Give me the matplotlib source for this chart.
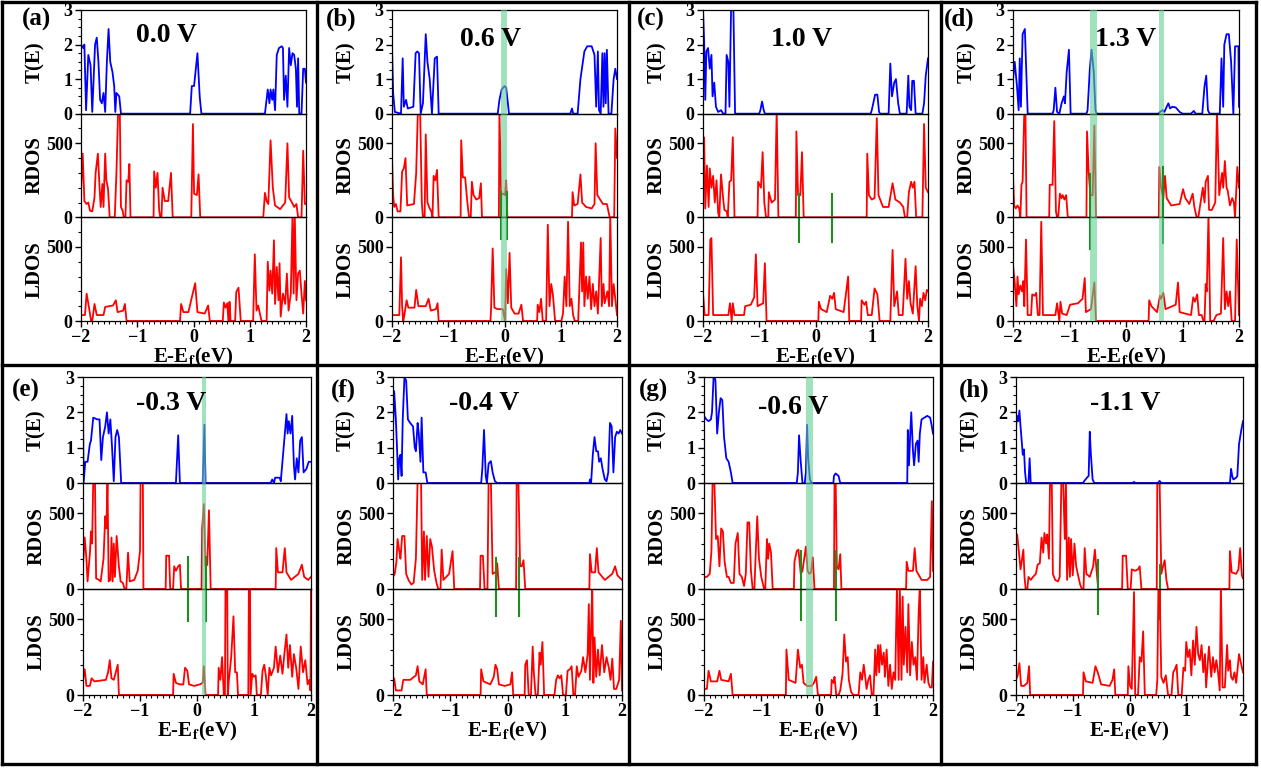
import numpy as np
import matplotlib.pyplot as plt
from matplotlib.ticker import MultipleLocator
from matplotlib.lines import Line2D

plt.rcParams['font.family'] = ['Liberation Serif', 'DejaVu Serif']
plt.rcParams['font.weight'] = 'bold'
plt.rcParams['mathtext.fontset'] = 'stix'

W, H = 1261, 771

# ---- data: (E, value) vertices ----
a_T = [(-2, 2.0), (-1.96, 1.9), (-1.94, 2.0), (-1.91, 0.1), (-1.87, 1.7), (-1.83, 1.4), (-1.80, 0.05), (-1.75, 2.0),
       (-1.72, 2.2), (-1.69, 1.5), (-1.66, 0.4), (-1.63, 0.3), (-1.60, 0.6), (-1.57, 0.05), (-1.54, 1.5), (-1.51, 2.45),
       (-1.48, 1.5), (-1.44, 1.2), (-1.41, 0.8), (-1.39, 0.05), (-1.37, 0.6), (-1.32, 0.5), (-1.29, 0.0), (-0.06, 0.0),
       (-0.03, 0.8), (0.01, 0.8), (0.07, 1.75), (0.11, 0.5), (0.14, 0.0), (1.27, 0.0), (1.32, 0.7), (1.35, 0.3),
       (1.37, 0.7), (1.40, 0.4), (1.42, 0.7), (1.45, 0.1), (1.48, 1.7), (1.52, 1.9), (1.57, 1.95), (1.59, 1.9),
       (1.61, 0.4), (1.64, 1.1), (1.67, 0.2), (1.70, 1.9), (1.73, 1.4), (1.76, 1.75), (1.79, 1.7), (1.82, 1.3),
       (1.84, 0.2), (1.86, 1.6), (1.88, 0.0), (1.92, 0.0), (1.95, 1.3), (1.98, 1.3), (2.0, 0.9)]
a_R = [(-2, 170), (-1.97, 430), (-1.94, 110), (-1.90, 90), (-1.87, 100), (-1.84, 45), (-1.80, 40), (-1.76, 135),
       (-1.74, 300), (-1.70, 430), (-1.67, 200), (-1.65, 70), (-1.62, 225), (-1.60, 70), (-1.57, 430), (-1.55, 250),
       (-1.52, 195), (-1.49, 0), (-1.40, 0), (-1.37, 300), (-1.34, 720), (-1.31, 720), (-1.29, 70), (-1.26, 45),
       (-1.24, 0), (-1.21, 0), (-1.19, 250), (-1.16, 240), (-1.14, 360), (-1.12, 0), (-0.71, 0), (-0.70, 310),
       (-0.67, 200), (-0.64, 300), (-0.61, 45), (-0.59, 0), (-0.57, 0), (-0.55, 200), (-0.51, 110), (-0.45, 110),
       (-0.40, 300), (-0.37, 0), (-0.04, 0), (-0.01, 630), (0.01, 160), (0.06, 150), (0.09, 290), (0.12, 0),
       (1.24, 0), (1.27, 165), (1.30, 110), (1.33, 90), (1.37, 520), (1.41, 200), (1.45, 80), (1.54, 55),
       (1.63, 100), (1.67, 500), (1.70, 135), (1.75, 100), (1.79, 70), (1.83, 90), (1.86, 0), (1.92, 0),
       (1.95, 450), (1.98, 90), (2.0, 90)]
a_L = [(-2, 40), (-1.93, 40), (-1.90, 185), (-1.86, 95), (-1.82, 0), (-1.80, 0), (-1.76, 115), (-1.72, 40),
       (-1.60, 40), (-1.57, 95), (-1.43, 105), (-1.38, 140), (-1.35, 60), (-1.25, 70), (-1.22, 115), (-1.19, 0),
       (-0.24, 0), (-0.22, 115), (-0.18, 60), (-0.09, 60), (-0.03, 160), (0.03, 255), (0.07, 60), (0.20, 50),
       (0.26, 105), (0.29, 0), (0.52, 0), (0.54, 125), (0.57, 90), (0.60, 120), (0.62, 0), (0.63, 0), (0.64, 130),
       (0.66, 0), (0.74, 0), (0.76, 195), (0.80, 225), (0.84, 0), (1.06, 0), (1.09, 450), (1.12, 70), (1.15, 105),
       (1.18, 50), (1.21, 0), (1.30, 0), (1.32, 400), (1.35, 205), (1.37, 340), (1.40, 185), (1.43, 545),
       (1.45, 115), (1.48, 365), (1.51, 140), (1.53, 390), (1.55, 30), (1.59, 185), (1.63, 115), (1.66, 320),
       (1.69, 70), (1.73, 185), (1.76, 720), (1.78, 185), (1.80, 720), (1.83, 140), (1.86, 320), (1.89, 340),
       (1.92, 185), (1.95, 50), (1.98, 270), (2.0, 140)]

b_T = [(-2, 1.95), (-1.98, 0.6), (-1.95, 0.05), (-1.84, 0.0), (-1.81, 1.6), (-1.79, 0.2), (-1.75, 0.4),
       (-1.72, 0.15), (-1.62, 0.2), (-1.58, 1.75), (-1.55, 1.8), (-1.52, 1.75), (-1.49, 0.0), (-1.45, 0.3),
       (-1.40, 2.3), (-1.37, 1.5), (-1.33, 1.0), (-1.29, 0.0), (-1.24, 1.6), (-1.20, 1.65), (-1.17, 0.0),
       (-0.12, 0.0), (-0.09, 0.4), (-0.05, 0.7), (0.0, 0.8), (0.03, 0.75), (0.06, 0.3), (0.08, 0.0),
       (1.17, 0.0), (1.20, 0.15), (1.22, 0.0), (1.30, 0.0), (1.35, 1.0), (1.42, 1.8), (1.47, 1.95), (1.55, 1.95),
       (1.60, 1.7), (1.63, 0.2), (1.66, 1.8), (1.68, 0.1), (1.71, 0.0), (1.74, 1.75), (1.76, 0.2), (1.78, 1.75),
       (1.80, 0.3), (1.82, 1.85), (1.85, 0.0), (1.90, 0.0), (1.94, 1.0), (1.97, 1.3), (2.0, 1.0)]
b_R = [(-2, 400), (-1.98, 150), (-1.96, 70), (-1.93, 90), (-1.90, 40), (-1.85, 40), (-1.82, 310), (-1.79, 330),
       (-1.76, 400), (-1.73, 80), (-1.61, 90), (-1.57, 300), (-1.54, 720), (-1.50, 720), (-1.47, 100), (-1.45, 0),
       (-1.42, 0), (-1.40, 560), (-1.37, 100), (-1.33, 60), (-1.30, 40), (-1.28, 0), (-1.26, 280), (-1.23, 250),
       (-1.20, 320), (-1.17, 0), (-0.78, 0), (-0.77, 520), (-0.74, 270), (-0.70, 270), (-0.66, 100), (-0.63, 0),
       (-0.60, 0), (-0.58, 240), (-0.55, 150), (-0.50, 120), (-0.45, 130), (-0.42, 230), (-0.40, 0), (-0.10, 0),
       (-0.09, 720), (-0.06, 150), (-0.02, 160), (0.01, 150), (0.03, 250), (0.05, 0), (1.20, 0), (1.21, 170),
       (1.24, 80), (1.30, 90), (1.35, 290), (1.38, 100), (1.45, 70), (1.55, 60), (1.60, 90), (1.62, 500),
       (1.65, 150), (1.75, 90), (1.82, 90), (1.87, 0), (1.95, 0), (1.97, 600), (2.0, 400)]
b_L = [(-2, 40), (-1.87, 40), (-1.84, 430), (-1.82, 100), (-1.80, 0), (-1.78, 40), (-1.74, 140), (-1.71, 90),
       (-1.60, 90), (-1.57, 210), (-1.53, 100), (-1.40, 100), (-1.35, 150), (-1.31, 70), (-1.22, 80), (-1.19, 120),
       (-1.17, 0), (-0.25, 0), (-0.24, 70), (-0.21, 490), (-0.18, 90), (-0.12, 80), (-0.03, 80), (0.01, 0),
       (0.03, 350), (0.06, 120), (0.09, 460), (0.12, 90), (0.18, 50), (0.25, 50), (0.30, 110), (0.33, 0),
       (0.58, 0), (0.59, 110), (0.62, 60), (0.65, 150), (0.68, 0), (0.74, 0), (0.77, 650), (0.80, 100),
       (0.83, 250), (0.86, 180), (0.90, 0), (1.01, 0), (1.04, 50), (1.07, 300), (1.10, 100), (1.13, 670),
       (1.16, 100), (1.19, 150), (1.22, 40), (1.25, 0), (1.31, 0), (1.36, 530), (1.38, 200), (1.40, 530),
       (1.42, 100), (1.45, 300), (1.48, 150), (1.51, 300), (1.54, 80), (1.57, 250), (1.60, 100), (1.63, 200),
       (1.66, 50), (1.71, 560), (1.73, 100), (1.76, 250), (1.78, 120), (1.83, 200), (1.86, 100), (1.88, 720),
       (1.91, 100), (1.94, 250), (1.97, 150), (2.0, 40)]

c_T = [(-2, 3.0), (-1.98, 2.1), (-1.96, 0.4), (-1.94, 1.8), (-1.91, 1.9), (-1.88, 1.3), (-1.85, 1.7),
       (-1.83, 0.5), (-1.80, 0.9), (-1.77, 0.2), (-1.73, 0.05), (-1.68, 0.1), (-1.64, 0.0), (-1.60, 0.0),
       (-1.58, 1.7), (-1.55, 1.5), (-1.53, 0.2), (-1.50, 3.1), (-1.46, 3.1), (-1.43, 0.0), (-1.00, 0.0),
       (-0.98, 0.1), (-0.95, 0.35), (-0.92, 0.1), (-0.90, 0.0), (0.98, 0.0), (1.00, 0.1), (1.06, 0.55),
       (1.10, 0.55), (1.13, 0.05), (1.15, 0.0), (1.30, 0.0), (1.33, 1.45), (1.36, 0.5), (1.40, 0.9), (1.43, 1.0),
       (1.47, 0.3), (1.50, 0.0), (1.62, 0.0), (1.65, 1.1), (1.67, 0.2), (1.70, 0.1), (1.72, 0.95), (1.75, 0.95),
       (1.78, 0.0), (1.90, 0.0), (1.93, 0.3), (1.96, 1.1), (2.0, 1.6)]
c_R = [(-2, 300), (-1.98, 540), (-1.96, 60), (-1.93, 350), (-1.90, 70), (-1.88, 330), (-1.85, 200),
       (-1.82, 280), (-1.79, 100), (-1.76, 250), (-1.73, 30), (-1.71, 0), (-1.68, 290), (-1.64, 120),
       (-1.62, 50), (-1.58, 40), (-1.56, 0), (-1.53, 240), (-1.50, 250), (-1.47, 540), (-1.44, 0), (-1.03, 0),
       (-1.02, 240), (-0.97, 200), (-0.94, 440), (-0.91, 100), (-0.88, 0), (-0.84, 0), (-0.83, 170), (-0.78, 100),
       (-0.72, 120), (-0.69, 720), (-0.66, 0), (-0.35, 0), (-0.34, 580), (-0.31, 150), (-0.27, 150),
       (-0.24, 440), (-0.21, 0), (0.91, 0), (0.92, 430), (0.95, 150), (1.00, 120), (1.05, 130), (1.09, 670),
       (1.12, 150), (1.20, 70), (1.30, 70), (1.37, 230), (1.42, 120), (1.50, 100), (1.56, 70), (1.59, 0),
       (1.63, 0), (1.66, 170), (1.70, 240), (1.73, 200), (1.76, 240), (1.79, 0), (1.90, 0), (1.93, 630),
       (1.96, 200), (2.0, 170)]
c_L = [(-2, 190), (-1.97, 40), (-1.90, 40), (-1.87, 550), (-1.85, 560), (-1.82, 40), (-1.55, 40), (-1.52, 120),
       (-1.49, 0), (-1.47, 120), (-1.44, 40), (-1.27, 40), (-1.25, 100), (-1.15, 110), (-1.09, 160),
       (-1.06, 450), (-1.03, 100), (-0.93, 120), (-0.90, 390), (-0.87, 0), (0.05, 0), (0.06, 130), (0.10, 80),
       (0.20, 60), (0.26, 170), (0.30, 150), (0.33, 190), (0.36, 80), (0.50, 60), (0.58, 300), (0.60, 0),
       (0.81, 0), (0.82, 140), (0.87, 110), (0.90, 130), (0.93, 40), (1.00, 40), (1.05, 220), (1.10, 180),
       (1.14, 0), (1.33, 0), (1.37, 480), (1.40, 100), (1.45, 200), (1.48, 40), (1.55, 40), (1.60, 420),
       (1.63, 150), (1.66, 270), (1.69, 120), (1.73, 50), (1.78, 370), (1.81, 100), (1.84, 0), (1.86, 150),
       (1.89, 100), (1.92, 190), (1.95, 140), (1.98, 210), (2.0, 200)]

d_T = [(-2, 1.0), (-1.97, 1.5), (-1.93, 0.8), (-1.90, 0.1), (-1.88, 1.6), (-1.86, 0.2), (-1.83, 2.3),
       (-1.79, 2.45), (-1.74, 0.0), (-1.30, 0.0), (-1.28, 0.1), (-1.25, 0.75), (-1.22, 0.05), (-1.18, 0.0),
       (-1.14, 0.3), (-1.10, 0.5), (-1.08, 0.3), (-1.05, 1.2), (-1.01, 1.85), (-0.98, 0.0), (-0.70, 0.0),
       (-0.68, 0.1), (-0.64, 1.3), (-0.61, 1.85), (-0.57, 1.2), (-0.54, 0.1), (-0.52, 0.0), (0.58, 0.0),
       (0.60, 0.05), (0.65, 0.1), (0.68, 0.05), (0.72, 0.2), (0.75, 0.3), (0.78, 0.15), (0.82, 0.2),
       (0.88, 0.18), (0.95, 0.05), (1.00, 0.0), (1.15, 0.0), (1.20, 0.08), (1.23, 0.0), (1.35, 0.0),
       (1.39, 0.8), (1.42, 1.1), (1.45, 0.1), (1.48, 0.0), (1.66, 0.0), (1.69, 1.6), (1.72, 0.2), (1.74, 2.0),
       (1.78, 2.3), (1.82, 2.3), (1.86, 1.5), (1.90, 0.0), (1.93, 1.95), (1.99, 1.95), (2.0, 0.2)]
d_R = [(-2, 280), (-1.98, 80), (-1.95, 60), (-1.92, 80), (-1.89, 60), (-1.87, 0), (-1.85, 220), (-1.83, 240),
       (-1.80, 720), (-1.78, 720), (-1.76, 0), (-1.36, 0), (-1.35, 220), (-1.30, 220), (-1.27, 650),
       (-1.24, 40), (-1.22, 0), (-1.20, 0), (-1.17, 160), (-1.14, 130), (-1.12, 150), (-1.09, 120),
       (-1.06, 150), (-1.03, 0), (-0.70, 0), (-0.69, 580), (-0.66, 300), (-0.63, 150), (-0.59, 150),
       (-0.56, 620), (-0.53, 0), (0.58, 0), (0.59, 340), (0.62, 200), (0.66, 130), (0.69, 280), (0.72, 130),
       (0.80, 80), (0.95, 90), (1.01, 190), (1.05, 130), (1.12, 90), (1.18, 160), (1.21, 70), (1.25, 0),
       (1.28, 0), (1.32, 100), (1.36, 200), (1.39, 100), (1.41, 240), (1.45, 280), (1.47, 50), (1.52, 50),
       (1.58, 100), (1.61, 720), (1.65, 150), (1.70, 300), (1.72, 200), (1.75, 380), (1.78, 200), (1.80, 180),
       (1.84, 80), (1.88, 130), (1.91, 100), (1.93, 0), (1.97, 340), (2.0, 200)]
d_L = [(-2, 380), (-1.97, 260), (-1.94, 100), (-1.92, 300), (-1.90, 180), (-1.87, 240), (-1.84, 200),
       (-1.82, 270), (-1.80, 100), (-1.77, 550), (-1.74, 40), (-1.68, 40), (-1.66, 180), (-1.62, 170),
       (-1.59, 190), (-1.56, 40), (-1.53, 40), (-1.50, 670), (-1.47, 40), (-1.25, 40), (-1.22, 120),
       (-1.18, 0), (-1.16, 130), (-1.13, 50), (-1.05, 40), (-0.99, 110), (-0.85, 120), (-0.77, 150),
       (-0.73, 290), (-0.71, 60), (-0.62, 80), (-0.56, 260), (-0.53, 0), (0.40, 0), (0.41, 140), (0.45, 100),
       (0.55, 60), (0.60, 170), (0.62, 150), (0.66, 190), (0.70, 80), (0.88, 110), (0.92, 260), (0.95, 60),
       (1.15, 40), (1.19, 160), (1.22, 130), (1.26, 180), (1.29, 40), (1.34, 40), (1.37, 0), (1.39, 0),
       (1.41, 250), (1.43, 200), (1.46, 720), (1.49, 0), (1.55, 0), (1.60, 40), (1.68, 50), (1.72, 560),
       (1.75, 80), (1.78, 200), (1.81, 100), (1.84, 200), (1.87, 0), (1.93, 0), (1.96, 550), (2.0, 40)]

e_T = [(-2, 2.2), (-1.99, 0.0), (-1.96, 0.6), (-1.92, 0.6), (-1.88, 1.1), (-1.86, 1.2), (-1.82, 1.85),
       (-1.75, 1.8), (-1.71, 1.8), (-1.68, 0.65), (-1.65, 1.3), (-1.61, 1.6), (-1.58, 2.0), (-1.55, 1.4),
       (-1.52, 1.8), (-1.49, 1.0), (-1.46, 0.05), (-1.43, 1.3), (-1.40, 1.5), (-1.37, 1.3), (-1.33, 0.0),
       (-0.37, 0.0), (-0.33, 1.35), (-0.30, 0.0), (0.10, 0.0), (0.13, 1.65), (0.15, 0.0), (1.29, 0.0),
       (1.32, 0.1), (1.35, 0.0), (1.37, 0.15), (1.45, 0.15), (1.47, 0.05), (1.52, 1.0), (1.57, 1.95),
       (1.59, 1.4), (1.61, 1.75), (1.64, 1.4), (1.67, 1.9), (1.70, 0.5), (1.72, 0.1), (1.75, 0.7), (1.78, 0.3),
       (1.81, 1.2), (1.84, 1.3), (1.87, 0.3), (1.92, 0.4), (1.96, 0.6), (2.0, 0.6)]
e_R = [(-2, 160), (-1.97, 340), (-1.94, 200), (-1.92, 50), (-1.88, 230), (-1.86, 380), (-1.84, 300),
       (-1.82, 720), (-1.79, 720), (-1.77, 70), (-1.72, 60), (-1.69, 50), (-1.64, 200), (-1.61, 480),
       (-1.59, 400), (-1.57, 720), (-1.55, 50), (-1.52, 60), (-1.50, 340), (-1.48, 50), (-1.46, 300),
       (-1.44, 80), (-1.41, 350), (-1.37, 150), (-1.34, 50), (-1.30, 40), (-1.27, 0), (-1.24, 0), (-1.21, 240),
       (-1.18, 50), (-1.10, 60), (-1.04, 120), (-1.00, 250), (-0.99, 720), (-0.95, 720), (-0.94, 0),
       (-0.55, 0), (-0.54, 220), (-0.49, 220), (-0.47, 0), (-0.42, 0), (-0.40, 150), (-0.37, 120),
       (-0.33, 150), (-0.30, 160), (-0.28, 0), (0.08, 0), (0.09, 400), (0.12, 560), (0.15, 150), (0.18, 160),
       (0.21, 520), (0.24, 0), (1.38, 0), (1.39, 270), (1.42, 110), (1.50, 110), (1.54, 270), (1.57, 110),
       (1.65, 60), (1.78, 100), (1.84, 160), (1.88, 80), (1.95, 60), (2.0, 80)]
e_L = [(-2, 100), (-1.97, 170), (-1.94, 60), (-1.88, 60), (-1.85, 110), (-1.80, 90), (-1.60, 100),
       (-1.56, 150), (-1.53, 230), (-1.50, 110), (-1.46, 100), (-1.39, 200), (-1.37, 0), (-0.42, 0),
       (-0.41, 140), (-0.37, 80), (-0.30, 70), (-0.24, 70), (-0.21, 180), (-0.17, 160), (-0.14, 70),
       (-0.05, 60), (0.05, 70), (0.10, 80), (0.12, 190), (0.15, 0), (0.37, 0), (0.38, 180), (0.41, 100),
       (0.44, 250), (0.47, 0), (0.49, 0), (0.50, 720), (0.53, 720), (0.54, 0), (0.56, 100), (0.60, 250),
       (0.64, 520), (0.67, 150), (0.70, 150), (0.72, 0), (0.90, 0), (0.91, 720), (0.93, 720), (0.94, 0),
       (0.97, 140), (1.00, 120), (1.03, 130), (1.05, 0), (1.12, 0), (1.15, 160), (1.18, 200), (1.21, 120),
       (1.24, 0), (1.27, 180), (1.30, 130), (1.35, 180), (1.38, 320), (1.42, 150), (1.46, 260), (1.50, 140),
       (1.53, 260), (1.57, 400), (1.60, 180), (1.63, 330), (1.67, 120), (1.70, 270), (1.74, 180), (1.78, 40),
       (1.82, 320), (1.86, 150), (1.90, 230), (1.94, 70), (1.97, 100), (1.99, 30), (2.0, 720)]

f_T = [(-2, 1.5), (-1.98, 2.6), (-1.95, 1.8), (-1.93, 1.0), (-1.91, 0.1), (-1.89, 0.7), (-1.87, 0.8),
       (-1.85, 0.2), (-1.83, 1.8), (-1.80, 3.0), (-1.77, 2.9), (-1.74, 1.8), (-1.70, 1.7), (-1.65, 1.6),
       (-1.62, 1.0), (-1.60, 0.9), (-1.57, 1.7), (-1.55, 1.4), (-1.52, 0.6), (-1.50, 1.85), (-1.47, 0.3),
       (-1.43, 0.3), (-1.40, 0.0), (-0.46, 0.0), (-0.44, 0.4), (-0.41, 1.5), (-0.38, 0.2), (-0.36, 0.0),
       (-0.33, 0.55), (-0.29, 0.62), (-0.26, 0.3), (-0.22, 0.05), (-0.18, 0.0), (1.43, 0.0), (1.44, 0.1),
       (1.46, 0.0), (1.49, 0.8), (1.52, 1.3), (1.55, 0.9), (1.58, 0.9), (1.60, 0.6), (1.63, 0.7), (1.66, 0.4),
       (1.70, 0.1), (1.73, 0.05), (1.76, 0.3), (1.79, 1.7), (1.82, 1.6), (1.85, 0.3), (1.88, 1.3), (1.91, 1.45),
       (1.94, 1.4), (1.97, 1.5), (2.0, 1.4)]
f_R = [(-2, 80), (-1.97, 100), (-1.94, 180), (-1.92, 330), (-1.89, 250), (-1.87, 200), (-1.84, 350),
       (-1.80, 350), (-1.77, 100), (-1.73, 60), (-1.68, 30), (-1.64, 40), (-1.60, 200), (-1.57, 720),
       (-1.51, 720), (-1.49, 60), (-1.46, 380), (-1.44, 60), (-1.41, 350), (-1.38, 80), (-1.35, 330),
       (-1.32, 280), (-1.28, 120), (-1.24, 40), (-1.21, 0), (-1.17, 0), (-1.15, 260), (-1.12, 60),
       (-1.02, 100), (-0.96, 250), (-0.93, 0), (-0.48, 0), (-0.47, 220), (-0.43, 220), (-0.40, 0),
       (-0.35, 0), (-0.33, 720), (-0.29, 720), (-0.26, 100), (-0.21, 110), (-0.18, 170), (-0.15, 0),
       (0.15, 0), (0.16, 720), (0.19, 720), (0.22, 150), (0.25, 150), (0.28, 190), (0.31, 0), (1.43, 0),
       (1.44, 230), (1.47, 110), (1.53, 110), (1.56, 270), (1.59, 110), (1.70, 60), (1.83, 100), (1.88, 150),
       (1.92, 90), (2.0, 60)]
f_L = [(-2, 60), (-1.98, 110), (-1.95, 30), (-1.85, 30), (-1.82, 100), (-1.70, 100), (-1.60, 130),
       (-1.57, 190), (-1.54, 90), (-1.48, 70), (-1.43, 170), (-1.41, 0), (-0.47, 0), (-0.46, 170),
       (-0.42, 90), (-0.30, 70), (-0.24, 120), (-0.21, 200), (-0.18, 170), (-0.15, 70), (-0.05, 60),
       (0.05, 70), (0.08, 150), (0.10, 0), (0.30, 0), (0.31, 200), (0.34, 230), (0.37, 0), (0.41, 0),
       (0.44, 320), (0.46, 150), (0.49, 0), (0.53, 0), (0.56, 280), (0.58, 200), (0.61, 350), (0.64, 0),
       (0.82, 0), (0.85, 100), (0.88, 130), (0.91, 110), (0.94, 130), (0.97, 0), (1.02, 0), (1.05, 160),
       (1.09, 170), (1.12, 190), (1.15, 0), (1.18, 0), (1.21, 190), (1.24, 120), (1.29, 160), (1.32, 250),
       (1.36, 150), (1.40, 270), (1.42, 600), (1.44, 100), (1.46, 440), (1.48, 720), (1.50, 80), (1.52, 380),
       (1.55, 120), (1.58, 300), (1.61, 130), (1.65, 330), (1.69, 150), (1.73, 250), (1.77, 180), (1.80, 100),
       (1.83, 240), (1.86, 40), (1.90, 40), (1.95, 100), (1.98, 490), (2.0, 30)]

g_T = [(-2, 1.9), (-1.96, 1.8), (-1.92, 1.75), (-1.88, 1.8), (-1.86, 2.0), (-1.83, 3.1), (-1.80, 2.9),
       (-1.77, 1.4), (-1.74, 2.0), (-1.71, 2.4), (-1.68, 2.35), (-1.65, 1.3), (-1.61, 0.7), (-1.57, 0.6),
       (-1.53, 0.3), (-1.50, 0.0), (-0.38, 0.0), (-0.36, 0.3), (-0.34, 1.35), (-0.31, 0.6), (-0.28, 0.0),
       (-0.24, 0.0), (-0.22, 0.3), (-0.20, 1.65), (-0.18, 0.7), (-0.15, 0.1), (-0.12, 0.0), (0.26, 0.0),
       (0.27, 0.2), (0.30, 0.27), (0.35, 0.2), (0.38, 0.0), (1.55, 0.0), (1.56, 1.5), (1.58, 0.5),
       (1.60, 1.3), (1.62, 2.0), (1.65, 0.9), (1.67, 0.5), (1.70, 1.1), (1.73, 1.2), (1.75, 0.6), (1.77, 1.4),
       (1.80, 1.8), (1.85, 1.85), (1.90, 1.9), (1.95, 1.85), (1.98, 1.6), (2.0, 1.4)]
g_R = [(-2, 80), (-1.95, 80), (-1.90, 100), (-1.87, 250), (-1.85, 720), (-1.82, 720), (-1.79, 330),
       (-1.76, 350), (-1.73, 150), (-1.70, 400), (-1.67, 380), (-1.64, 180), (-1.60, 80), (-1.57, 80),
       (-1.53, 40), (-1.48, 40), (-1.45, 300), (-1.41, 370), (-1.38, 100), (-1.34, 80), (-1.30, 20),
       (-1.27, 100), (-1.24, 440), (-1.21, 440), (-1.18, 120), (-1.15, 0), (-1.12, 0), (-1.10, 200),
       (-1.07, 480), (-1.04, 200), (-1.00, 80), (-0.95, 0), (-0.93, 0), (-0.90, 330), (-0.88, 200),
       (-0.86, 300), (-0.83, 240), (-0.80, 0), (-0.43, 0), (-0.42, 180), (-0.38, 250), (-0.35, 260),
       (-0.31, 100), (-0.28, 120), (-0.25, 200), (-0.22, 280), (-0.19, 120), (-0.16, 100), (-0.13, 110),
       (-0.10, 210), (-0.07, 0), (0.27, 0), (0.28, 720), (0.30, 720), (0.32, 150), (0.35, 130), (0.38, 230),
       (0.40, 0), (1.53, 0), (1.54, 180), (1.57, 120), (1.65, 120), (1.68, 270), (1.71, 120), (1.80, 60),
       (1.90, 60), (1.95, 80), (1.98, 580), (2.0, 120)]
g_L = [(-2, 40), (-1.95, 40), (-1.92, 160), (-1.88, 90), (-1.77, 90), (-1.73, 160), (-1.70, 100),
       (-1.57, 90), (-1.53, 140), (-1.50, 0), (-0.57, 0), (-0.56, 300), (-0.52, 100), (-0.40, 80),
       (-0.36, 300), (-0.32, 180), (-0.29, 200), (-0.26, 80), (-0.20, 60), (-0.12, 60), (-0.08, 80),
       (-0.04, 120), (-0.01, 0), (0.22, 0), (0.23, 100), (0.26, 80), (0.28, 120), (0.31, 0), (0.35, 0),
       (0.38, 30), (0.42, 140), (0.45, 400), (0.48, 220), (0.51, 250), (0.53, 100), (0.57, 20), (0.61, 0),
       (0.70, 0), (0.73, 150), (0.76, 100), (0.79, 200), (0.81, 140), (0.84, 40), (0.87, 100), (0.90, 130),
       (0.93, 0), (0.96, 0), (0.99, 300), (1.01, 130), (1.04, 330), (1.06, 150), (1.08, 330), (1.11, 200),
       (1.14, 280), (1.16, 120), (1.19, 300), (1.22, 60), (1.25, 200), (1.28, 40), (1.31, 150), (1.34, 100),
       (1.37, 720), (1.40, 100), (1.42, 720), (1.45, 100), (1.47, 650), (1.49, 200), (1.52, 450),
       (1.55, 150), (1.57, 600), (1.60, 130), (1.63, 350), (1.66, 200), (1.69, 250), (1.72, 100), (1.75, 550),
       (1.77, 720), (1.80, 100), (1.83, 250), (1.85, 80), (1.89, 200), (1.92, 80), (1.95, 50), (1.98, 50),
       (2.0, 220)]

h_T = [(-2, 1.6), (-1.98, 1.9), (-1.96, 1.75), (-1.94, 2.05), (-1.92, 1.6), (-1.90, 1.2), (-1.88, 0.8),
       (-1.86, 0.95), (-1.84, 0.3), (-1.82, 0.0), (-1.78, 0.0), (-1.76, 0.7), (-1.74, 0.0), (-0.82, 0.0),
       (-0.80, 0.05), (-0.75, 0.15), (-0.72, 0.2), (-0.70, 1.45), (-0.68, 0.8), (-0.65, 0.1), (-0.62, 0.0),
       (0.05, 0.0), (0.08, 0.03), (0.10, 0.0), (0.50, 0.0), (0.53, 0.06), (0.56, 0.0), (1.77, 0.0),
       (1.79, 0.4), (1.81, 0.2), (1.83, 0.1), (1.88, 0.15), (1.90, 0.2), (1.93, 1.1), (1.97, 1.5), (2.0, 1.75)]
h_R = [(-2, 300), (-1.98, 360), (-1.95, 250), (-1.92, 130), (-1.90, 180), (-1.87, 260), (-1.85, 80),
       (-1.83, 0), (-1.80, 0), (-1.78, 80), (-1.74, 60), (-1.70, 80), (-1.65, 100), (-1.62, 160),
       (-1.58, 170), (-1.55, 340), (-1.52, 240), (-1.50, 370), (-1.47, 300), (-1.45, 360), (-1.42, 200),
       (-1.40, 720), (-1.37, 720), (-1.35, 100), (-1.31, 60), (-1.26, 50), (-1.23, 80), (-1.20, 720),
       (-1.17, 720), (-1.14, 330), (-1.12, 720), (-1.10, 60), (-1.07, 340), (-1.05, 80), (-1.03, 330),
       (-1.00, 90), (-0.97, 300), (-0.94, 150), (-0.90, 80), (-0.87, 30), (-0.84, 0), (-0.81, 0),
       (-0.79, 270), (-0.76, 100), (-0.70, 80), (-0.64, 150), (-0.61, 260), (-0.58, 120), (-0.55, 0),
       (-0.13, 0), (-0.12, 220), (-0.06, 220), (-0.03, 0), (0.02, 0), (0.04, 130), (0.10, 120), (0.15, 130),
       (0.18, 150), (0.21, 0), (0.48, 0), (0.49, 720), (0.53, 720), (0.56, 100), (0.59, 150), (0.62, 190),
       (0.65, 60), (0.68, 0), (1.76, 0), (1.77, 250), (1.80, 110), (1.88, 100), (1.92, 130), (1.95, 270),
       (1.98, 90), (2.0, 70)]
h_L = [(-2, 100), (-1.97, 130), (-1.94, 210), (-1.91, 60), (-1.86, 60), (-1.80, 80), (-1.77, 190),
       (-1.75, 0), (-0.82, 0), (-0.81, 150), (-0.77, 90), (-0.65, 80), (-0.60, 190), (-0.56, 150),
       (-0.50, 70), (-0.35, 60), (-0.30, 100), (-0.27, 170), (-0.25, 0), (-0.03, 0), (-0.02, 190),
       (0.01, 60), (0.04, 40), (0.08, 680), (0.10, 0), (0.15, 0), (0.18, 250), (0.21, 220), (0.24, 420),
       (0.27, 0), (0.47, 0), (0.49, 100), (0.51, 720), (0.53, 720), (0.56, 120), (0.60, 80), (0.64, 130),
       (0.68, 0), (0.74, 0), (0.77, 150), (0.80, 170), (0.83, 200), (0.86, 0), (0.92, 0), (0.95, 180),
       (0.98, 160), (1.00, 350), (1.03, 250), (1.06, 300), (1.09, 130), (1.12, 360), (1.15, 200), (1.18, 450),
       (1.21, 270), (1.24, 230), (1.27, 330), (1.30, 150), (1.33, 270), (1.35, 50), (1.40, 320), (1.44, 120),
       (1.47, 250), (1.50, 150), (1.53, 230), (1.56, 150), (1.59, 30), (1.61, 720), (1.64, 50), (1.68, 50),
       (1.72, 330), (1.74, 160), (1.77, 230), (1.79, 120), (1.82, 100), (1.85, 150), (1.88, 80), (1.93, 270),
       (1.97, 200), (2.0, 150)]

labels = ['(a)', '(b)', '(c)', '(d)', '(e)', '(f)', '(g)', '(h)']
voltages = ['0.0 V', '0.6 V', '1.0 V', '1.3 V', '-0.3 V', '-0.4 V', '-0.6 V', '-1.1 V']
T_data = [a_T, b_T, c_T, d_T, e_T, f_T, g_T, h_T]
R_data = [a_R, b_R, c_R, d_R, e_R, f_R, g_R, h_R]
L_data = [a_L, b_L, c_L, d_L, e_L, f_L, g_L, h_L]
# highlighted energy windows (green bands)
bands = [[], [(-0.07, 0.05)], [], [(-0.64, -0.52), (0.58, 0.665)],
         [(0.09, 0.16)], [], [(-0.22, -0.10)], []]
# green markers: (E, top in RDOS units, bottom in RDOS units)
markers = [[], [(-0.06, 170, -145), (0.05, 170, -145)], [(-0.30, 160, -165), (0.30, 160, -165)],
           [(-0.64, 295, -215), (0.655, 340, -175)], [(-0.15, 212, -214), (0.15, 212, -214)],
           [(-0.20, 205, -175), (0.20, 205, -175)], [(-0.30, 250, -207), (0.30, 250, -207)],
           [(-0.56, 192, -164), (0.53, 160, -200)]]

# layout in pixels
ax_x = [(81, 306), (392, 617), (703, 928), (1013, 1239), (83, 311), (393, 622), (704, 933), (1016, 1243)]
ax_y = [(10, 321)] * 4 + [(377, 695)] * 4
label_xy = [(22, 19), (326, 19), (637, 19), (944, 19), (12, 390), (331, 390), (639, 390), (959, 390)]
volt_xy = [(167, 35), (491, 40), (802, 40), (1126, 40), (171, 403), (484, 403), (793, 407), (1125, 404)]

fig = plt.figure(figsize=(W / 100, H / 100), dpi=100)

def style(ax, ymax, major, minor):
    ax.set_xlim(-2, 2)
    ax.set_ylim(0, ymax)
    ax.patch.set_visible(False)
    ax.yaxis.set_major_locator(MultipleLocator(major))
    ax.yaxis.set_minor_locator(MultipleLocator(minor))
    ax.xaxis.set_major_locator(MultipleLocator(1))
    ax.xaxis.set_minor_locator(MultipleLocator(0.1))
    ax.tick_params(which='major', direction='out', length=4, width=1, labelsize=13, pad=2)
    ax.tick_params(which='minor', direction='out', length=2, width=0.8)
    for s in ax.spines.values():
        s.set_linewidth(0.9)
    for t in ax.get_yticklabels():
        t.set_fontweight('bold')

for i in range(8):
    xl, xr = ax_x[i]
    yt, yb = ax_y[i]
    h3 = (yb - yt) / 3
    axs = []
    for k in range(3):
        top = yt + k * h3
        ax = fig.add_axes([xl / W, 1 - (top + h3) / H, (xr - xl) / W, h3 / H])
        axs.append(ax)
    axT, axR, axL = axs

    x, y = zip(*T_data[i])
    axT.plot(x, y, color='#0000ff', lw=1.3)
    style(axT, 3, 1, 0.25)
    axT.set_ylabel('T(E)', fontsize=15, fontweight='bold')

    x, y = zip(*R_data[i])
    axR.plot(x, y, color='#ff0000', lw=1.3)
    style(axR, 700, 500, 100)
    axR.set_ylabel('RDOS', fontsize=15, fontweight='bold')

    x, y = zip(*L_data[i])
    axL.plot(x, y, color='#ff0000', lw=1.3)
    style(axL, 700, 500, 100)
    axL.set_ylabel('LDOS', fontsize=15, fontweight='bold')
    axL.set_xlabel(r'E-E$_{\mathbf{f}}$(eV)', fontsize=15, fontweight='bold', labelpad=0)
    for t in axL.get_xticklabels():
        t.set_fontweight('bold')

    for ax in (axT, axR):
        ax.tick_params(axis='x', which='both', bottom=False, labelbottom=False)
    for ax in axs:
        ax.yaxis.set_label_coords(-0.16, 0.5)
        for lo, hi in bands[i]:
            ax.axvspan(lo, hi, color='#61cd93', alpha=0.6, lw=0, zorder=3)

    for e, y0, y1 in markers[i]:
        axR.plot([e, e], [y0, y1], color='#1e8c1e', lw=1.5, clip_on=False, zorder=5)

    fig.text(label_xy[i][0] / W, 1 - label_xy[i][1] / H, labels[i], fontsize=18,
             fontweight='bold', ha='left', va='center')
    fig.text(volt_xy[i][0] / W, 1 - volt_xy[i][1] / H, voltages[i], fontsize=20,
             fontweight='bold', ha='center', va='center')

# panel frames
frame_lines = [((2, 1256), (2, 2)), ((2, 1256), (764, 764)), ((2, 2), (2, 764)), ((1256, 1256), (2, 764)),
               ((2, 1256), (365, 365)), ((317, 317), (2, 764)), ((629, 629), (2, 764)), ((941, 941), (2, 764))]
for (xa, xb), (ya, yb) in frame_lines:
    fig.add_artist(Line2D([xa / W, xb / W], [1 - ya / H, 1 - yb / H], transform=fig.transFigure,
                          color='black', lw=2.4))

fig.savefig('out.png', dpi=100)
